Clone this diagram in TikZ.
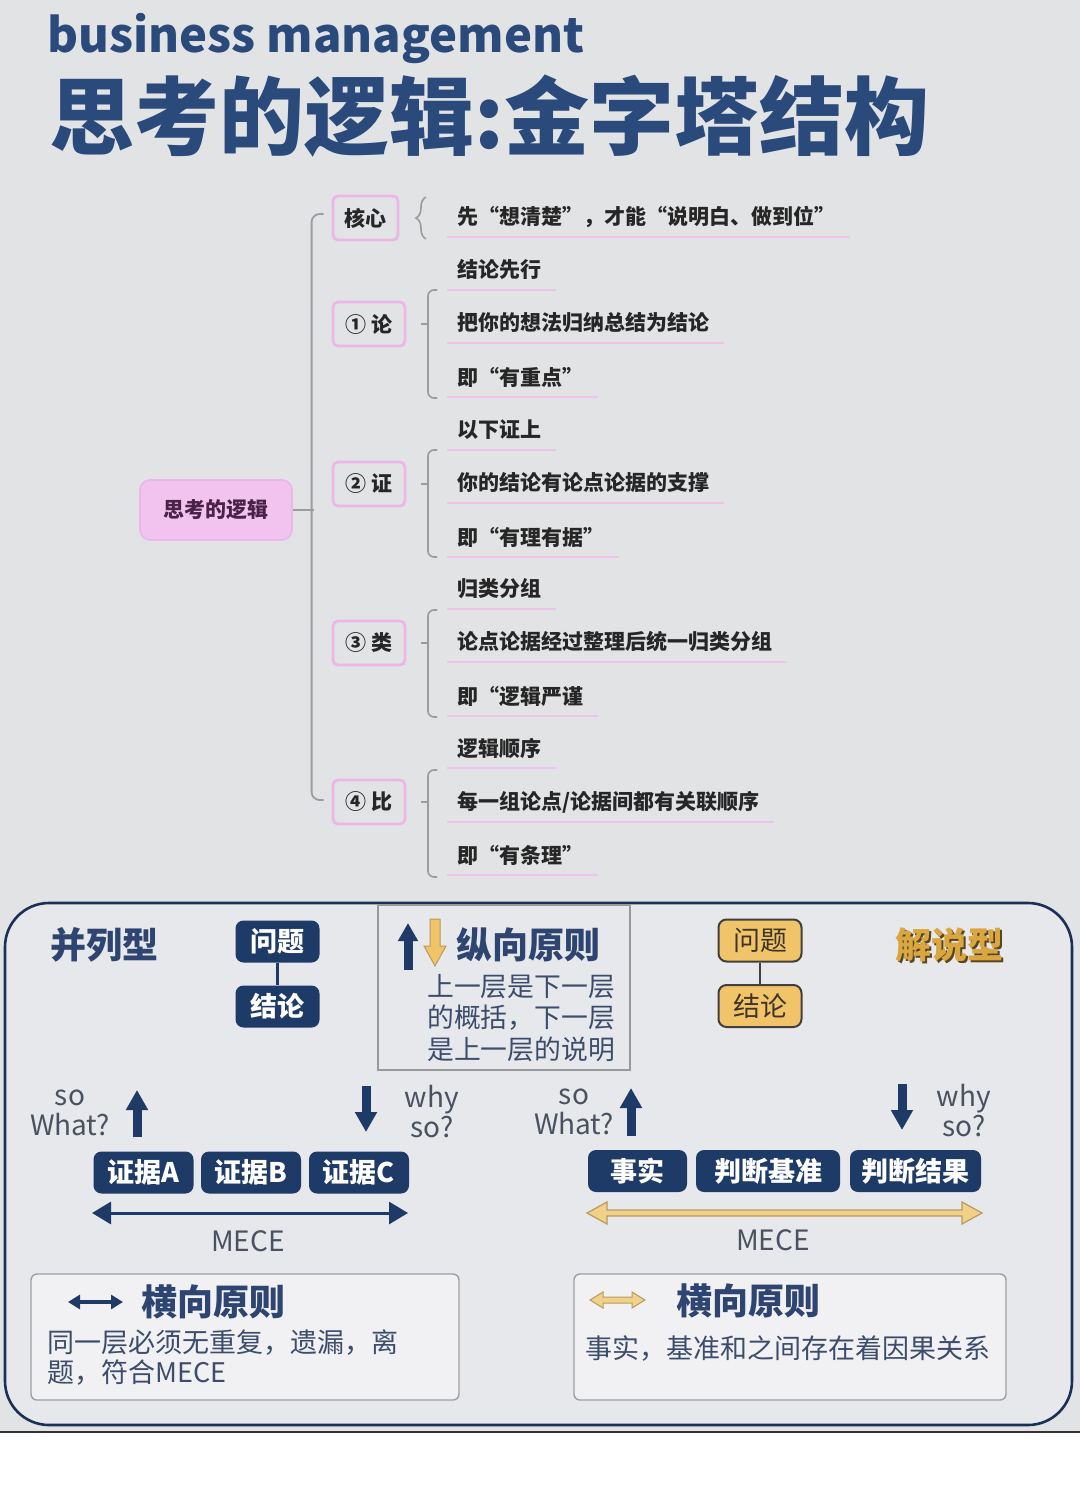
\documentclass[tikz,border=0pt]{standalone}
\usepackage{fontspec}
\setmainfont{Noto Sans CJK SC}
\usetikzlibrary{arrows.meta,calc,decorations.pathreplacing}
\definecolor{bg}{HTML}{E2E3E5}
\definecolor{panel}{HTML}{E7E8EB}
\definecolor{navy}{HTML}{1E3A66}
\definecolor{titleblue}{HTML}{2A4A7B}
\definecolor{hdr}{HTML}{2D4570}
\definecolor{body}{HTML}{3C4D6B}
\definecolor{lab}{HTML}{4A5160}
\definecolor{pinkb}{HTML}{EDB6E8}
\definecolor{pinkf}{HTML}{F1C3EE}
\definecolor{pinkl}{HTML}{EEC4EC}
\definecolor{brkc}{HTML}{9C9C9C}
\definecolor{gold}{HTML}{F2C46A}
\definecolor{goldl}{HTML}{F1D08A}
\definecolor{goldd}{HTML}{B89B5C}
\definecolor{goldtxt}{HTML}{D9A640}
\definecolor{goldsh}{HTML}{5A4522}
\definecolor{goldbtxt}{HTML}{3E3528}
\definecolor{roottxt}{HTML}{4A2148}
\begin{document}
\begin{tikzpicture}[x=0.5pt,y=-0.5pt,
  mm/.style={anchor=west,inner sep=0pt,font=\bfseries\fontsize{10.5}{12}\selectfont,text=black!85},
  lvl/.style={draw=pinkb,line width=1.4pt,rounded corners=2.5pt,fill=bg,minimum height=22pt,inner sep=0pt,font=\bfseries\fontsize{10.5}{12}\selectfont,text=black!85},
  uline/.style={draw=pinkl,line width=1.3pt},
  brk/.style={draw=brkc,line width=0.8pt,rounded corners=3pt},
  trunk/.style={draw=brkc,line width=0.9pt,rounded corners=4pt},
  navybox/.style={fill=navy,rounded corners=4pt,text=white,font=\bfseries\fontsize{13.5}{14}\selectfont,minimum height=21pt,inner sep=0pt},
  goldbox/.style={fill=gold,draw=black!75,line width=1pt,rounded corners=4pt,text=goldbtxt,font=\fontsize{13.5}{14}\selectfont,minimum height=21pt,minimum width=41.5pt,inner sep=0pt},
  hdrtxt/.style={inner sep=0pt,text=hdr,font=\bfseries\fontsize{18}{20}\selectfont},
  labtxt/.style={inner sep=0pt,align=center,text=lab,font=\fontsize{14}{15}\selectfont},
  blockup/.style={draw=navy,line width=4.5pt,-{Triangle[length=10pt,width=10.5pt]}},
  mece/.style={draw=navy,line width=1.5pt,{Triangle[length=9.5pt,width=11pt]}-{Triangle[length=9.5pt,width=11pt]}},
  subbox/.style={draw=gray!75,line width=0.7pt,fill=panel!60!white,rounded corners=3pt}
]
\useasboundingbox (0,0) rectangle (1080,1506);
\fill[bg] (0,0) rectangle (1080,1432);
\fill[white] (0,1432) rectangle (1080,1506);
\draw[black!80,line width=1.4pt] (0,1432) -- (1080,1432);

% ---------- title ----------
\node[anchor=base west,inner sep=0pt,text=titleblue,font=\bfseries\fontsize{23.6}{24}\selectfont] (sub) at (47,52) {business management};
\node[anchor=west,inner sep=0pt,text=titleblue,font=\bfseries\fontsize{42.5}{43}\selectfont] (title) at (49,116) {思考的逻辑:金字塔结构};

% ---------- mind map ----------
\node[fill=pinkf,draw=pinkb,line width=0.8pt,rounded corners=5pt,minimum width=76pt,minimum height=30pt,inner sep=0pt,text=roottxt,font=\bfseries\fontsize{10.5}{12}\selectfont] (root) at (216,510) {思考的逻辑};

\node[lvl,minimum width=32.5pt] (k) at (365.5,218) {核心};
\node[lvl,minimum width=36pt] (n1) at (369,324) {① 论};
\node[lvl,minimum width=36pt] (n2) at (369,484) {② 证};
\node[lvl,minimum width=36pt] (n3) at (369,643) {③ 类};
\node[lvl,minimum width=36pt] (n4) at (369,802) {④ 比};

\draw[trunk] ($(k.west)+(-8,-4)$) -- ++(-12,0) |- ($(n4.west)+(-8,-2)$);
\draw[trunk] (root.east) -- ++(21,0);

% core
\node[mm] (i0) at (457,217) {先“想清楚”，才能“说明白、做到位”};
\draw[draw=brkc,line width=0.8pt,decorate,decoration={brace,amplitude=5pt}] (426,239) -- (426,197);
% group 1
\node[mm] (i11) at (457,270) {结论先行};
\node[mm] (i12) at (457,323) {把你的想法归纳总结为结论};
\node[mm] (i13) at (457,377) {即“有重点”};
\draw[brk] (437,290) -- (428,290) -- (428,398) -- (437,398);
\draw[draw=brkc,line width=0.8pt] (428,324) -- (421,324);
% group 2
\node[mm] (i21) at (457,430) {以下证上};
\node[mm] (i22) at (457,483) {你的结论有论点论据的支撑};
\node[mm] (i23) at (457,537) {即“有理有据”};
\draw[brk] (437,450) -- (428,450) -- (428,557) -- (437,557);
\draw[draw=brkc,line width=0.8pt] (428,484) -- (421,484);
% group 3
\node[mm] (i31) at (457,589) {归类分组};
\node[mm] (i32) at (457,642) {论点论据经过整理后统一归类分组};
\node[mm] (i33) at (457,696) {即“逻辑严谨};
\draw[brk] (437,610) -- (428,610) -- (428,717) -- (437,717);
\draw[draw=brkc,line width=0.8pt] (428,643) -- (421,643);
% group 4
\node[mm] (i41) at (457,748) {逻辑顺序};
\node[mm] (i42) at (457,802) {每一组论点/论据间都有关联顺序};
\node[mm] (i43) at (457,855) {即“有条理”};
\draw[brk] (437,770) -- (428,770) -- (428,877) -- (437,877);
\draw[draw=brkc,line width=0.8pt] (428,802) -- (421,802);

\foreach \n in {i0,i11,i12,i13,i21,i22,i23,i31,i32,i33,i41,i42,i43}{
  \draw[uline] ($(\n.west)+(-10,20)$) -- ($(\n.east)+(14,20)$);
}

% ---------- lower panel ----------
\draw[draw=navy!85!black,line width=1.3pt,fill=panel,rounded corners=22pt] (5,903) rectangle (1072,1425);
\draw[draw=gray!80,line width=0.6pt] (378,905) rectangle (630,1070);

% left: parallel type
\node[hdrtxt,anchor=west] (plx) at (50,945) {并列型};
\node[navybox,minimum width=42pt] (q1) at (277.5,941.5) {问题};
\node[navybox,minimum width=42pt] (c1) at (277.5,1006.5) {结论};
\draw[navy,line width=1.5pt] (q1) -- (c1);

\node[labtxt] (sw1) at (70,1113) {so\\What?};
\coordinate (ua1) at (137,1137); \coordinate (ub1) at (137,1090);
\draw[blockup] (ua1) -- (ub1);
\coordinate (da1) at (366,1086); \coordinate (db1) at (366,1132);
\draw[blockup] (da1) -- (db1);
\node[labtxt] (ws1) at (432,1112) {why\\so?};

\node[navybox,minimum width=50pt] (ea) at (143.5,1172.5) {证据A};
\node[navybox,minimum width=50pt] (eb) at (251,1172.5) {证据B};
\node[navybox,minimum width=50pt] (ec) at (359,1172.5) {证据C};
\coordinate (ma1) at (92,1213); \coordinate (mb1) at (408,1213);
\draw[mece] (ma1) -- (mb1);
\node[labtxt] (me1) at (248,1241) {MECE};

% middle: vertical principle
\coordinate (vu1) at (408,970); \coordinate (vu2) at (408,923);
\draw[draw=navy,line width=4.5pt,-{Triangle[length=9pt,width=9.5pt]}] (vu1) -- (vu2);
\filldraw[fill=gold,draw=goldd,line width=0.5pt] (430,919) -- (440,919) -- (440,946) -- (446,946) -- (435,966) -- (424,946) -- (430,946) -- cycle;
\node[hdrtxt,anchor=west] (vt) at (456,945) {纵向原则};
\node[inner sep=0pt,align=left,text=body,font=\fontsize{13.4}{15.8}\selectfont] (vb) at (521,1018) {上一层是下一层\\的概括，下一层\\是上一层的说明};

% right: explanation type
\node[goldbox] (q2) at (760,940.5) {问题};
\node[goldbox] (c2) at (760,1006) {结论};
\draw[black!75,line width=1.3pt] (q2) -- (c2);
\node[inner sep=0pt,anchor=west,text=goldsh,font=\bfseries\fontsize{18}{20}\selectfont] (jss) at (897.5,946.5) {解说型};
\node[inner sep=0pt,anchor=west,text=goldtxt,font=\bfseries\fontsize{18}{20}\selectfont] (js) at (895,945) {解说型};

\node[labtxt] (sw2) at (574,1112) {so\\What?};
\coordinate (ua2) at (631,1136); \coordinate (ub2) at (631,1088);
\draw[blockup] (ua2) -- (ub2);
\coordinate (da2) at (902,1084); \coordinate (db2) at (902,1130);
\draw[blockup] (da2) -- (db2);
\node[labtxt] (ws2) at (964,1111) {why\\so?};

\node[navybox,minimum width=49.5pt] (f1) at (637.5,1171) {事实};
\node[navybox,minimum width=72pt] (f2) at (768,1171) {判断基准};
\node[navybox,minimum width=65.5pt] (f3) at (915.5,1171) {判断结果};
\filldraw[fill=goldl,draw=goldd,line width=0.6pt] (587,1213) -- (607,1202) -- (607,1210) -- (962,1210) -- (962,1202) -- (982,1213) -- (962,1224) -- (962,1216) -- (607,1216) -- (607,1224) -- cycle;
\node[labtxt] (me2) at (773,1240) {MECE};

% bottom boxes
\draw[subbox] (31,1274) rectangle (459,1400);
\coordinate (ha1) at (68,1302); \coordinate (hb1) at (123,1302);
\draw[draw=navy,line width=2pt,{Triangle[length=6pt,width=7pt]}-{Triangle[length=6pt,width=7pt]}] (ha1) -- (hb1);
\node[hdrtxt,anchor=west] (ht1) at (141,1302) {横向原则};
\node[inner sep=0pt,anchor=west,align=left,text=body,font=\fontsize{13.5}{15}\selectfont] (hx1) at (47,1357) {同一层必须无重复，遗漏，离\\题，符合MECE};

\draw[subbox] (574,1274) rectangle (1006,1400);
\filldraw[fill=goldl,draw=goldd,line width=0.5pt] (590,1300) -- (603,1292) -- (603,1297) -- (632,1297) -- (632,1292) -- (645,1300) -- (632,1308) -- (632,1303) -- (603,1303) -- (603,1308) -- cycle;
\node[hdrtxt,anchor=west] (ht2) at (676,1301) {横向原则};
\node[inner sep=0pt,anchor=west,text=body,font=\fontsize{13.5}{15}\selectfont] (hx2) at (585,1348) {事实，基准和之间存在着因果关系};
\end{tikzpicture}
\end{document}
